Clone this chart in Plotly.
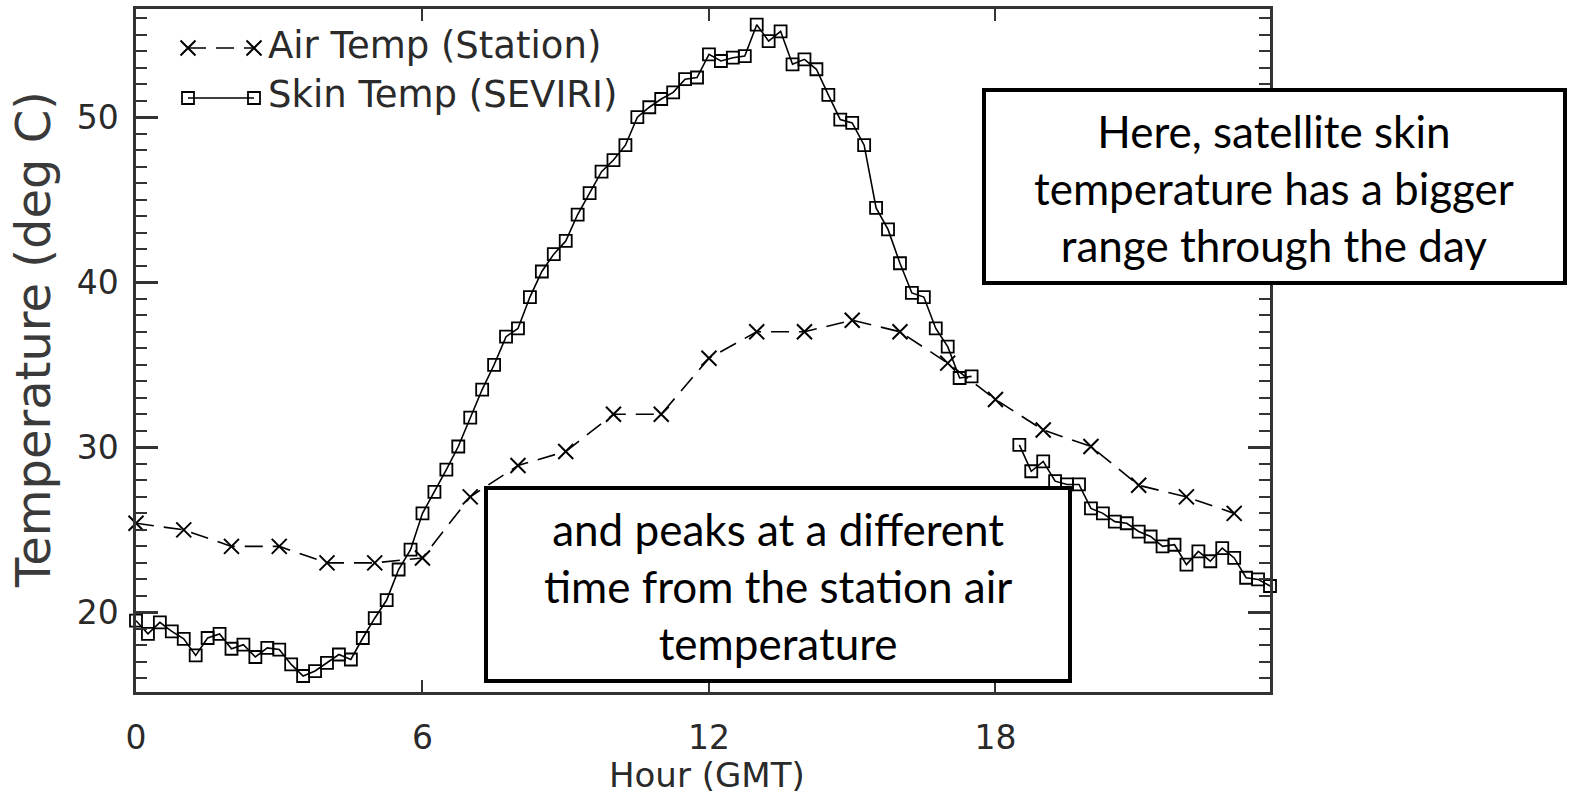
import plotly.graph_objects as go

# ---------------- data ----------------
air_hours = [0, 1, 2, 3, 4, 5, 6, 7, 8, 9, 10, 11, 12, 13, 14, 15, 16, 17, 18, 19, 20, 21, 22, 23]
air_temp = [25.4, 25.0, 24.0, 24.0, 23.0, 23.0, 23.3, 27.0, 28.9, 29.75, 32.0, 32.0,
            35.4, 37.0, 37.0, 37.7, 37.0, 35.1, 32.9, 31.05, 30.05, 27.7, 27.0, 26.0]

skin_hours = [0.0, 0.25, 0.5, 0.75, 1.0, 1.25, 1.5, 1.75, 2.0, 2.25, 2.5, 2.75,
              3.0, 3.25, 3.5, 3.75, 4.0, 4.25, 4.5, 4.75, 5.0, 5.25, 5.5, 5.75,
              6.0, 6.25, 6.5, 6.75, 7.0, 7.25, 7.5, 7.75, 8.0, 8.25, 8.5, 8.75,
              9.0, 9.25, 9.5, 9.75, 10.0, 10.25, 10.5, 10.75, 11.0, 11.25, 11.5, 11.75,
              12.0, 12.25, 12.5, 12.75, 13.0, 13.25, 13.5, 13.75, 14.0, 14.25, 14.5, 14.75,
              15.0, 15.25, 15.5, 15.75, 16.0, 16.25, 16.5, 16.75, 17.0, 17.25, 17.5, 17.75,
              18.0, 18.25, 18.5, 18.75, 19.0, 19.25, 19.5, 19.75, 20.0, 20.25, 20.5, 20.75,
              21.0, 21.25, 21.5, 21.75, 22.0, 22.25, 22.5, 22.75, 23.0, 23.25, 23.5, 23.75]
skin_temp = [19.5, 18.7, 19.4, 18.85, 18.4, 17.4, 18.45, 18.7, 17.8, 18.05, 17.3, 17.85,
             17.75, 16.85, 16.15, 16.45, 16.95, 17.45, 17.15, 18.45, 19.65, 20.75, 22.6, 23.8,
             26.0, 27.3, 28.65, 30.05, 31.8, 33.5, 35.0, 36.7, 37.2, 39.1, 40.65, 41.7,
             42.5, 44.1, 45.4, 46.7, 47.4, 48.3, 50.0, 50.6, 51.1, 51.5, 52.3, 52.4,
             53.8, 53.4, 53.6, 53.7, 55.6, 54.6, 55.2, 53.2, 53.5, 52.9, 51.35, 49.85,
             49.65, 48.3, 44.5, 43.2, 41.15, 39.35, 39.1, 37.2, 36.1, 34.2, 34.3, None,
             None, None, 30.15, 28.55, 29.15, 27.95, 27.75, 27.75, 26.3, 26.0, 25.5, 25.4,
             24.9, 24.6, 24.0, 24.1, 22.9, 23.7, 23.1, 23.9, 23.3, 22.1, 22.0, 21.6]

x_ticks = [0, 6, 12, 18]
y_ticks = [20, 30, 40, 50]
legend_names = ["Air Temp (Station)", "Skin Temp (SEVIRI)"]
note_top = "Here, satellite skin<br>temperature has a bigger<br>range through the day"
note_bottom = "and peaks at a different<br>time from the station air<br>temperature"

# ---------------- layout geometry (pixels) ----------------
W, H = 1573, 799
L, R, T, B = 136, 303, 9, 107
PW, PH = W - L - R, H - T - B


def px(xp):
    return (xp - L) / PW


def py(yp):
    return (H - B - yp) / PH


AXC = "#333333"
TXT = "#2a2a2a"
FONT = "DejaVu Sans"

fig = go.Figure()

fig.add_trace(go.Scatter(
    x=air_hours, y=air_temp, mode="lines+markers", name=legend_names[0],
    line=dict(color="black", width=1.6, dash="18px,10px"),
    marker=dict(symbol="x-thin", size=15, line=dict(color="black", width=2)),
    showlegend=False, cliponaxis=False))

fig.add_trace(go.Scatter(
    x=skin_hours, y=skin_temp, mode="lines+markers", name=legend_names[1],
    line=dict(color="black", width=1.6),
    marker=dict(symbol="square-open", size=12, color="black", line=dict(width=1.8)),
    connectgaps=False, showlegend=False, cliponaxis=False))

# legend samples on an overlay axis in [0,1] units of the plot area
lx = [px(188), px(254)]
fig.add_trace(go.Scatter(
    x=lx, y=[py(48), py(48)], xaxis="x2", yaxis="y2", mode="lines+markers",
    line=dict(color="black", width=1.6, dash="18px,10px"),
    marker=dict(symbol="x-thin", size=15, line=dict(color="black", width=2)),
    showlegend=False, hoverinfo="skip", cliponaxis=False))
fig.add_trace(go.Scatter(
    x=lx, y=[py(98), py(98)], xaxis="x2", yaxis="y2", mode="lines+markers",
    line=dict(color="black", width=1.6),
    marker=dict(symbol="square-open", size=12, color="black", line=dict(width=1.8)),
    showlegend=False, hoverinfo="skip", cliponaxis=False))

annotations = [
    dict(text=legend_names[0], xref="paper", yref="paper", x=px(266), y=py(45),
         xanchor="left", yanchor="middle", showarrow=False,
         font=dict(family=FONT, size=37, color=TXT)),
    dict(text=legend_names[1], xref="paper", yref="paper", x=px(266), y=py(95),
         xanchor="left", yanchor="middle", showarrow=False,
         font=dict(family=FONT, size=37, color=TXT)),
    dict(text="Hour (GMT)", xref="paper", yref="paper", x=px(707), y=py(775),
         xanchor="center", yanchor="middle", showarrow=False,
         font=dict(family=FONT, size=34, color=TXT)),
    dict(text="Temperature (deg C)", xref="paper", yref="paper", x=px(33), y=py(340),
         xanchor="center", yanchor="middle", showarrow=False, textangle=-90,
         font=dict(family=FONT, size=48, color="#3a3a3a")),
    dict(text=note_top, xref="paper", yref="paper", x=px(1274), y=py(188),
         xanchor="center", yanchor="middle", showarrow=False, align="center",
         font=dict(family="Lato", size=44, color="black")),
    dict(text=note_bottom, xref="paper", yref="paper", x=px(778), y=py(586),
         xanchor="center", yanchor="middle", showarrow=False, align="center",
         font=dict(family="Lato", size=44, color="black")),
]

shapes = [
    dict(type="rect", xref="paper", yref="paper", x0=px(984), x1=px(1565),
         y0=py(283), y1=py(90), fillcolor="white", line=dict(color="black", width=4),
         layer="above"),
    dict(type="rect", xref="paper", yref="paper", x0=px(486), x1=px(1070),
         y0=py(681), y1=py(488), fillcolor="white", line=dict(color="black", width=4),
         layer="above"),
]

fig.update_layout(
    width=W, height=H,
    margin=dict(l=L, r=R, t=T, b=B, autoexpand=False),
    paper_bgcolor="white", plot_bgcolor="white",
    showlegend=False,
    annotations=annotations,
    shapes=shapes,
    xaxis=dict(range=[0, 23.75], tickvals=x_ticks, ticks="inside", ticklen=12,
               tickwidth=2, tickcolor=AXC, showline=True, linewidth=2.5, linecolor=AXC,
               mirror="ticks", showgrid=False, zeroline=False,
               ticklabelstandoff=15,
               tickfont=dict(family=FONT, size=33, color=TXT)),
    yaxis=dict(range=[15.18, 56.55], tickvals=y_ticks, ticks="inside", ticklen=22,
               tickwidth=2.5, tickcolor=AXC, showline=True, linewidth=2.5, linecolor=AXC,
               mirror="ticks", showgrid=False, zeroline=False,
               ticklabelstandoff=8,
               minor=dict(dtick=1, tick0=0, ticks="inside", ticklen=11, tickwidth=2,
                          tickcolor=AXC, showgrid=False),
               tickfont=dict(family=FONT, size=33, color=TXT)),
    xaxis2=dict(overlaying="x", range=[0, 1], visible=False, anchor="y2"),
    yaxis2=dict(overlaying="y", range=[0, 1], visible=False, anchor="x2"),
)

fig.write_html("out.html")
